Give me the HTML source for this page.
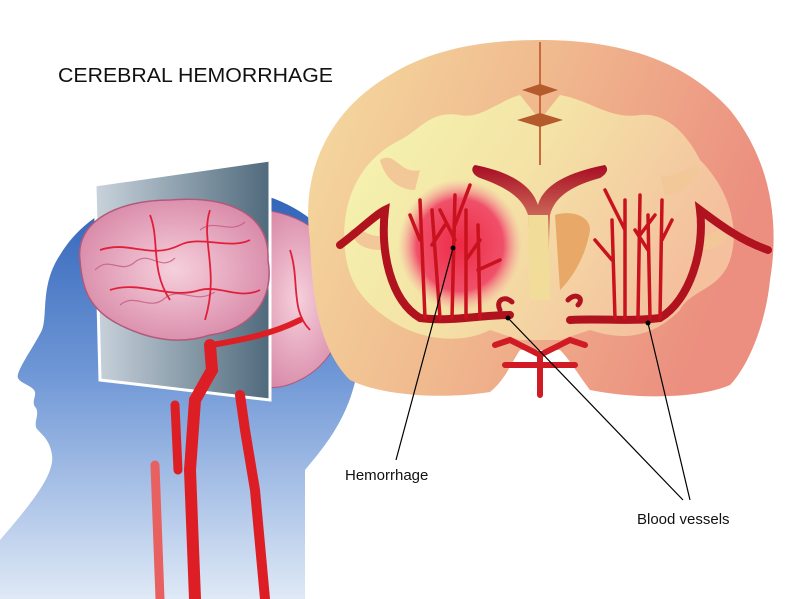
<!DOCTYPE html>
<html><head><meta charset="utf-8"><style>
html,body{margin:0;padding:0;background:#fff;width:799px;height:599px;overflow:hidden}
svg{display:block}
</style></head><body>
<svg width="799" height="599" viewBox="0 0 799 599" xmlns="http://www.w3.org/2000/svg">
<defs>
<linearGradient id="head" x1="0" y1="0" x2="0" y2="1">
<stop offset="0" stop-color="#2f62b8"/><stop offset="0.45" stop-color="#6f97d6"/><stop offset="1" stop-color="#dfe9f6"/>
</linearGradient>
<linearGradient id="panel" x1="0" y1="0" x2="1" y2="0">
<stop offset="0" stop-color="#c9d3dc"/><stop offset="1" stop-color="#4f6a7c"/>
</linearGradient>
<linearGradient id="outer" x1="0" y1="0" x2="1" y2="0.3">
<stop offset="0" stop-color="#f5dca0"/><stop offset="0.5" stop-color="#f0b98e"/><stop offset="1" stop-color="#ec8f80"/>
</linearGradient>
<linearGradient id="inner" x1="0" y1="0" x2="1" y2="0.4">
<stop offset="0" stop-color="#f5f6b0"/><stop offset="0.5" stop-color="#f4e3a6"/><stop offset="1" stop-color="#f4c09e"/>
</linearGradient>
<linearGradient id="vent" x1="0" y1="0" x2="0" y2="1">
<stop offset="0" stop-color="#a80c22"/><stop offset="1" stop-color="#f0c890"/>
</linearGradient>
<radialGradient id="hem" cx="0.5" cy="0.5" r="0.5">
<stop offset="0" stop-color="#ee2a45"/><stop offset="0.7" stop-color="#f0506a"/><stop offset="1" stop-color="#f5a0a0" stop-opacity="0"/>
</radialGradient>
<radialGradient id="pink" cx="0.5" cy="0.5" r="0.55">
<stop offset="0" stop-color="#f6d0dc"/><stop offset="1" stop-color="#d98aa8"/>
</radialGradient>
</defs>

<text x="58" y="82" font-family="Liberation Sans, sans-serif" font-size="20" fill="#111" textLength="275" lengthAdjust="spacingAndGlyphs">CEREBRAL HEMORRHAGE</text>

<path d="M0,599 L0,540 C30,505 55,475 52,455 C50,440 42,435 38,430 C32,425 40,415 36,408 C30,402 38,395 34,390 C30,385 20,383 18,378 C15,372 35,345 42,330 C48,315 40,285 60,255 C90,205 150,185 220,188 C300,192 355,240 360,320 C365,400 330,440 305,470 L305,599 Z" fill="url(#head)"/>

<path d="M255,210 C300,210 345,240 345,290 C350,330 330,365 300,380 C270,395 250,385 250,370 Z" fill="url(#pink)" stroke="#b05a7a" stroke-width="1"/>
<path d="M95,185 L270,160 L270,400 L100,380 Z" fill="url(#panel)" stroke="#fff" stroke-width="3"/>
<path d="M80,260 C75,220 120,200 170,200 C230,195 270,215 268,260 C275,300 250,330 210,335 C180,345 150,340 120,325 C90,310 82,290 80,260 Z" fill="url(#pink)" stroke="#b05a7a" stroke-width="1.5"/>
<g fill="none" stroke="#c0507a" stroke-width="1.2" opacity="0.7">
<path d="M95,270 C110,255 120,275 135,262 C150,250 160,272 175,258"/>
<path d="M120,305 C135,292 150,312 165,298 C180,286 195,305 215,292"/>
<path d="M200,230 C215,218 230,235 245,222"/>
</g>
<g fill="none" stroke="#e0203a" stroke-width="1.8">
<path d="M100,250 C130,240 150,260 180,245 C200,235 230,250 250,240"/>
<path d="M110,290 C140,280 170,300 200,290 C220,285 240,300 260,290"/>
<path d="M150,215 C160,240 150,270 170,300"/>
<path d="M210,210 C200,240 220,270 205,320"/>
<path d="M290,250 C300,280 290,310 310,330"/>
</g>
<g fill="none" stroke="#dd1f25" stroke-linecap="round">
<path d="M210,345 L212,370 L195,400 L190,470 L195,599" stroke-width="12"/>
<path d="M175,405 L178,470" stroke-width="9"/>
<path d="M240,395 L245,430 L255,490 L265,599" stroke-width="10"/>
<path d="M155,465 L160,599" stroke-width="9" stroke="#e86060"/>
<path d="M212,345 C240,340 270,335 300,320" stroke-width="6"/>
</g>

<path d="M310,240 C300,170 330,110 390,75 C430,50 480,40 540,40 C610,40 680,55 730,110 C770,160 780,220 770,280 C765,330 745,370 730,385 C700,398 640,400 590,390 C575,370 570,360 560,350 L520,350 C510,365 505,380 490,392 C440,400 380,395 350,380 C320,350 312,300 310,240 Z" fill="url(#outer)"/>
<path d="M345,250 C340,200 360,160 400,140 C420,130 430,110 460,115 C480,120 500,100 520,95 L540,120 L560,95 C590,100 610,120 640,115 C670,112 690,140 700,160 C730,190 740,230 730,260 C720,290 690,290 680,310 C650,340 620,340 590,330 L560,340 L520,340 L490,330 C460,345 420,340 390,320 C360,300 348,280 345,250 Z" fill="url(#inner)"/>
<g fill="#f3c898">
<path d="M380,160 C395,150 400,175 420,170 L415,190 C400,190 385,180 380,160 Z"/>
<path d="M700,170 C690,160 680,180 660,175 L665,195 C680,195 695,185 700,170 Z"/>
<path d="M350,230 C360,225 370,240 385,235 L382,250 C365,250 355,245 350,230 Z"/>
<path d="M730,230 C720,225 710,240 695,235 L698,250 C715,250 725,245 730,230 Z"/>
</g>
<line x1="540" y1="42" x2="540" y2="165" stroke="#c86a3c" stroke-width="2"/>
<path d="M522,90 L558,90 L540,84 Z M522,90 L558,90 L540,96Z" fill="#b45a2c"/>
<path d="M517,120 L563,120 L540,113 Z M517,120 L563,120 L540,127Z" fill="#b45a2c"/>
<path d="M475,165 C500,170 530,180 538,205 C545,180 580,170 605,165 C610,170 605,175 600,178 C575,185 555,195 550,215 L548,270 L530,270 L528,215 C522,195 500,185 480,178 C472,175 470,168 475,165 Z" fill="url(#vent)"/>
<path d="M528,215 L548,215 L550,300 L530,300 Z" fill="#f2dc9a"/>
<path d="M555,215 C570,210 590,215 590,230 C585,260 570,280 560,290 Z" fill="#e8a868"/>
<ellipse cx="460" cy="245" rx="62" ry="66" fill="url(#hem)"/>
<g fill="none" stroke="#b0121e" stroke-linecap="round">
<path d="M340,245 C360,230 375,215 385,210 C380,250 390,300 420,318 C450,322 480,315 510,315" stroke-width="8"/>
<path d="M768,250 C740,240 720,225 700,210 C705,250 690,300 660,318 C630,322 600,318 570,320" stroke-width="8"/>
<path d="M500,310 C495,300 505,295 512,302" stroke-width="5"/>
<path d="M578,305 C585,298 575,292 568,300" stroke-width="5"/>
</g>
<g fill="none" stroke="#c8121e" stroke-width="3.5" stroke-linecap="round">
<path d="M425,318 L420,200 M420,240 L410,215"/>
<path d="M440,318 L432,210 M432,245 L445,225"/>
<path d="M452,318 L455,195 M455,225 L470,185 M455,240 L440,210"/>
<path d="M466,318 L466,210 M466,260 L480,240"/>
<path d="M480,318 L478,225 M478,270 L500,260"/>
<path d="M615,318 L612,220 M612,260 L595,240"/>
<path d="M625,318 L625,200 M625,230 L605,190"/>
<path d="M638,318 L640,195 M640,235 L655,215"/>
<path d="M650,318 L648,215 M648,250 L635,230"/>
<path d="M660,318 L662,200 M662,240 L672,220"/>
</g>
<g fill="none" stroke="#d01a24" stroke-width="6" stroke-linecap="round">
<path d="M540,395 L540,355 M540,355 L510,340 L495,345 M540,355 L570,340 L585,345 M540,365 L505,365 M540,365 L575,365"/>
</g>

<g stroke="#000" stroke-width="1.2" fill="none">
<line x1="453" y1="248" x2="396" y2="460"/>
<line x1="508" y1="318" x2="683" y2="500"/>
<line x1="648" y1="323" x2="690" y2="500"/>
</g>
<circle cx="453" cy="248" r="2.5"/><circle cx="508" cy="318" r="2.5"/><circle cx="648" cy="323" r="2.5"/>
<text x="345" y="480" font-family="Liberation Sans, sans-serif" font-size="15" fill="#111">Hemorrhage</text>
<text x="637" y="524" font-family="Liberation Sans, sans-serif" font-size="15" fill="#111">Blood vessels</text>
</svg>
</body></html>
